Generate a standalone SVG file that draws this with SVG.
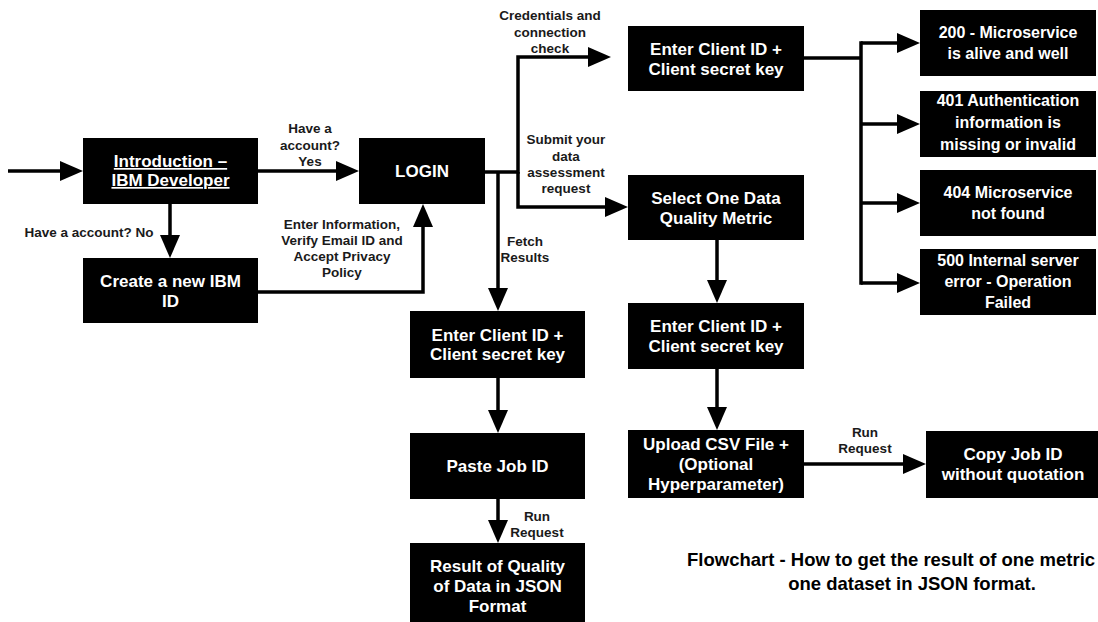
<svg xmlns="http://www.w3.org/2000/svg" width="1098" height="622" viewBox="0 0 1098 622">
<defs>
<style>
.box{fill:#000;}
.bt{font-family:"Liberation Sans",Arial,sans-serif;font-weight:bold;font-size:17px;fill:#fff;text-anchor:middle;}
.st{font-size:16px;}
.lb{font-family:"Liberation Sans",Arial,sans-serif;font-weight:bold;font-size:13.5px;fill:#1a1a1a;text-anchor:middle;}
.cap{font-family:"Liberation Sans",Arial,sans-serif;font-weight:bold;font-size:18.5px;fill:#000;}
.c{fill:none;stroke:#000;stroke-width:3.5;stroke-linejoin:miter;}
</style>
<marker id="ah" markerUnits="userSpaceOnUse" markerWidth="24" markerHeight="20" refX="15" refY="10" orient="auto" viewBox="0 0 24 20">
<path d="M0,0 L23,10 L0,20 Z" fill="#000"/>
</marker>
</defs>
<rect width="1098" height="622" fill="#fff"/>

<g id="connectors">
<path class="c" d="M8,171 H75" marker-end="url(#ah)"/>
<path class="c" d="M258,171 H351" marker-end="url(#ah)"/>
<path class="c" d="M170,204 V250" marker-end="url(#ah)"/>
<path class="c" d="M258,292 H423 V212" marker-end="url(#ah)"/>
<path class="c" d="M485,172 H518 V57 H603" marker-end="url(#ah)"/>
<path class="c" d="M518,172 V207 H620" marker-end="url(#ah)"/>
<path class="c" d="M498,172 V303" marker-end="url(#ah)"/>
<path class="c" d="M804,58 H861"/>
<path class="c" d="M861,41.25 V284.75"/>
<path class="c" d="M861,43 H912" marker-end="url(#ah)"/>
<path class="c" d="M861,124 H912" marker-end="url(#ah)"/>
<path class="c" d="M861,203 H912" marker-end="url(#ah)"/>
<path class="c" d="M861,283 H912" marker-end="url(#ah)"/>
<path class="c" d="M717,240 V295" marker-end="url(#ah)"/>
<path class="c" d="M717,369 V422" marker-end="url(#ah)"/>
<path class="c" d="M804,464 H918" marker-end="url(#ah)"/>
<path class="c" d="M498,378 V425" marker-end="url(#ah)"/>
<path class="c" d="M498,499 V535" marker-end="url(#ah)"/>
</g>

<g id="labels">
<text class="lb" x="310" y="133">Have a</text>
<text class="lb" x="310" y="150">account?</text>
<text class="lb" x="310" y="166">Yes</text>
<text class="lb" x="89" y="237">Have a account? No</text>
<text class="lb" x="342" y="229">Enter Information,</text>
<text class="lb" x="342" y="245">Verify Email ID and</text>
<text class="lb" x="342" y="261">Accept Privacy</text>
<text class="lb" x="342" y="277">Policy</text>
<text class="lb" x="550" y="20">Credentials and</text>
<text class="lb" x="550" y="37">connection</text>
<text class="lb" x="550" y="53">check</text>
<text class="lb" x="566" y="144">Submit your</text>
<text class="lb" x="566" y="161">data</text>
<text class="lb" x="566" y="177">assessment</text>
<text class="lb" x="566" y="193">request</text>
<text class="lb" x="525" y="246">Fetch</text>
<text class="lb" x="525" y="262">Results</text>
<text class="lb" x="537" y="521">Run</text>
<text class="lb" x="537" y="537">Request</text>
<text class="lb" x="865" y="437">Run</text>
<text class="lb" x="865" y="453">Request</text>
</g>

<g id="intro">
<rect class="box" x="83" y="138" width="175" height="66"/>
<text class="bt" x="170.5" y="167" text-decoration="underline">Introduction –</text>
<text class="bt" x="170.5" y="186" text-decoration="underline">IBM Developer</text>
</g>
<g id="login">
<rect class="box" x="359" y="138" width="126" height="66"/>
<text class="bt" x="422" y="177">LOGIN</text>
</g>
<g id="create">
<rect class="box" x="83" y="258" width="175" height="65"/>
<text class="bt" x="170.5" y="287">Create a new IBM</text>
<text class="bt" x="170.5" y="307">ID</text>
</g>
<g id="client-top">
<rect class="box" x="628" y="26" width="176" height="65"/>
<text class="bt" x="716" y="55">Enter Client ID +</text>
<text class="bt" x="716" y="75">Client secret key</text>
</g>
<g id="select">
<rect class="box" x="628" y="175" width="176" height="65"/>
<text class="bt" x="716" y="204">Select One Data</text>
<text class="bt" x="716" y="224">Quality Metric</text>
</g>
<g id="s200">
<rect class="box" x="920" y="10" width="176" height="66"/>
<text class="bt st" x="1008" y="38">200 - Microservice</text>
<text class="bt st" x="1008" y="59">is alive and well</text>
</g>
<g id="s401">
<rect class="box" x="920" y="91" width="176" height="66"/>
<text class="bt st" x="1008" y="106">401 Authentication</text>
<text class="bt st" x="1008" y="128">information is</text>
<text class="bt st" x="1008" y="150">missing or invalid</text>
</g>
<g id="s404">
<rect class="box" x="920" y="170" width="176" height="66"/>
<text class="bt st" x="1008" y="198">404 Microservice</text>
<text class="bt st" x="1008" y="219">not found</text>
</g>
<g id="s500">
<rect class="box" x="920" y="249" width="176" height="66"/>
<text class="bt st" x="1008" y="266">500 Internal server</text>
<text class="bt st" x="1008" y="287">error - Operation</text>
<text class="bt st" x="1008" y="308">Failed</text>
</g>
<g id="client-mid">
<rect class="box" x="410" y="311" width="175" height="67"/>
<text class="bt" x="497.5" y="341">Enter Client ID +</text>
<text class="bt" x="497.5" y="360">Client secret key</text>
</g>
<g id="paste">
<rect class="box" x="410" y="433" width="175" height="66"/>
<text class="bt" x="497.5" y="472">Paste Job ID</text>
</g>
<g id="result">
<rect class="box" x="410" y="543" width="175" height="80"/>
<text class="bt" x="497.5" y="572">Result of Quality</text>
<text class="bt" x="497.5" y="592">of Data in JSON</text>
<text class="bt" x="497.5" y="612">Format</text>
</g>
<g id="client-right">
<rect class="box" x="628" y="303" width="176" height="66"/>
<text class="bt" x="716" y="332">Enter Client ID +</text>
<text class="bt" x="716" y="352">Client secret key</text>
</g>
<g id="upload">
<rect class="box" x="628" y="430" width="176" height="68"/>
<text class="bt" x="716" y="450">Upload CSV File +</text>
<text class="bt" x="716" y="470">(Optional</text>
<text class="bt" x="716" y="490">Hyperparameter)</text>
</g>
<g id="copy">
<rect class="box" x="926" y="431" width="174" height="67"/>
<text class="bt" x="1013" y="460">Copy Job ID</text>
<text class="bt" x="1013" y="480">without quotation</text>
</g>

<g id="caption">
<text class="cap" x="687" y="566">Flowchart - How to get the result of one metric</text>
<text class="cap" x="912" y="590" text-anchor="middle">one dataset in JSON format.</text>
</g>
</svg>
